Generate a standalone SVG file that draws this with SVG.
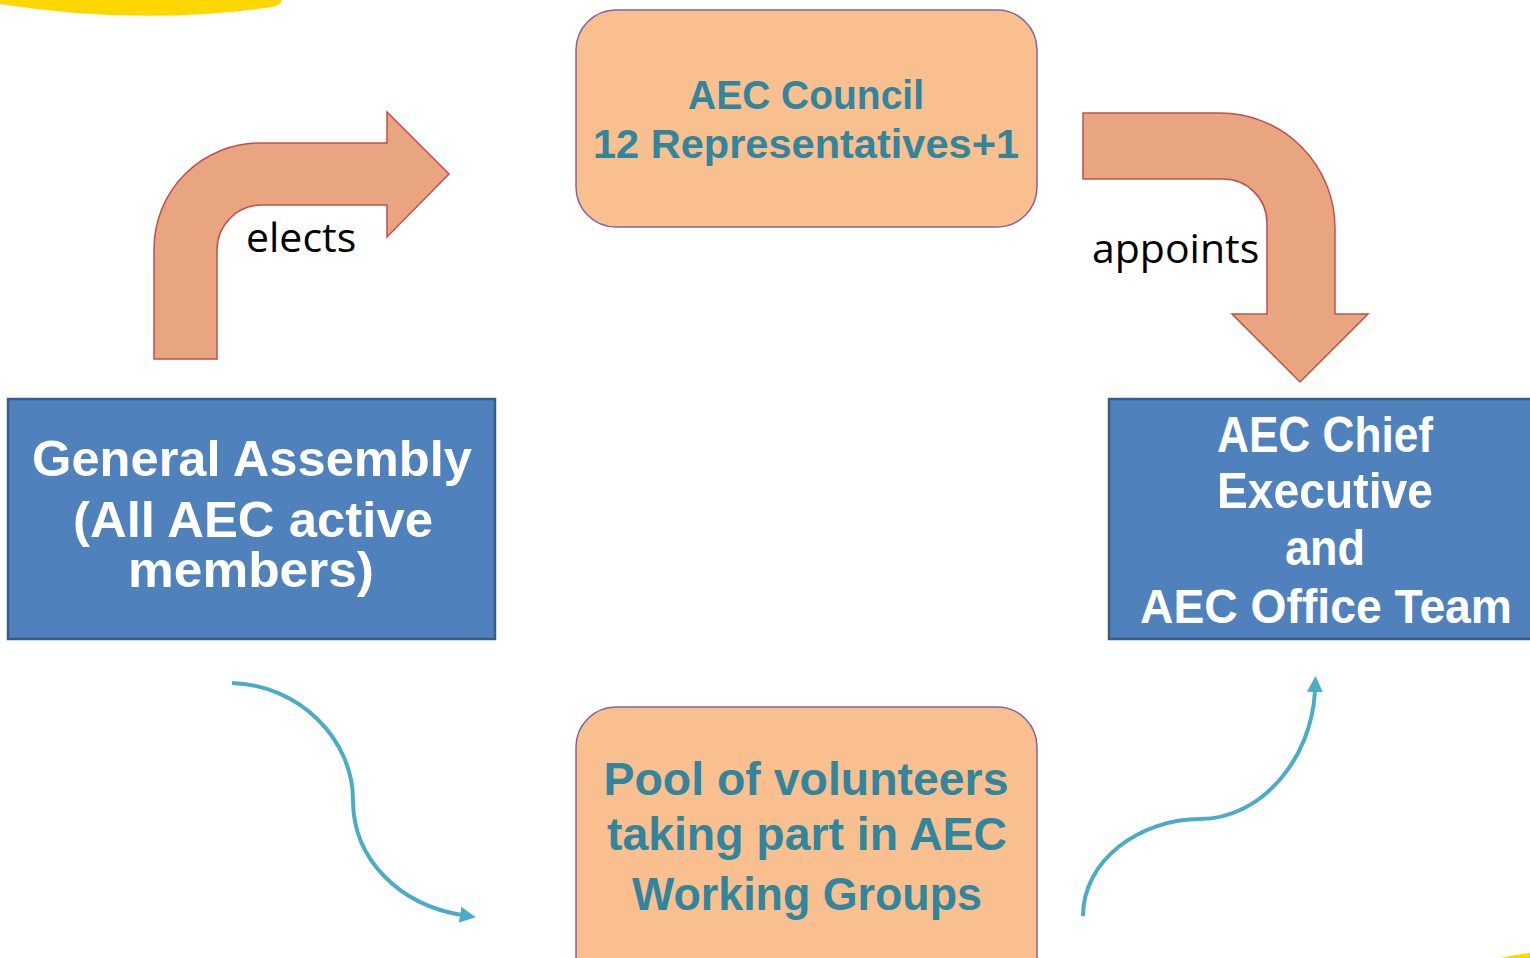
<svg xmlns="http://www.w3.org/2000/svg" width="1530" height="958" viewBox="0 0 1530 958">
<defs>
<style>
.bent{fill:#E9A57F;stroke:#C0504D;stroke-width:1.5}
.blue{fill:#4F81BD;stroke:#385D8A;stroke-width:2.5}
.peach{fill:#F9BF8F;stroke:#8064A2;stroke-width:1.5}
.wt{font-family:"Liberation Sans",Arial,sans-serif;font-weight:bold;fill:#FFFFFF;text-anchor:middle}
.tt{font-family:"Liberation Sans",Arial,sans-serif;font-weight:bold;fill:#31859C;text-anchor:middle}
.lbl{font-family:"Open Sans","Noto Sans",sans-serif;font-size:41px;fill:#000000}
.curve{fill:none;stroke:#4BACC6;stroke-width:4}
.yel{fill:#FFD700}
</style>
<marker id="ah" viewBox="0 0 16 16" refX="2" refY="8" markerWidth="16" markerHeight="16" markerUnits="userSpaceOnUse" orient="auto">
<path d="M0,0 L16,8 L0,16 Z" fill="#4BACC6"/>
</marker>
</defs>
<rect x="0" y="0" width="1530" height="958" fill="#FFFFFF"/>
<path class="yel" d="M0,0 L0,4 Q140,26 272,7 Q283,4 281,0 Z"/>
<path class="yel" d="M1500,958 Q1518,954 1530,953 L1530,958 Z"/>

<g id="connectors">
<g id="elects-arrow">
<path class="bent" d="M154,359 L154,249 A106,106 0 0 1 260,143 L387,143 L387,112 L449,174 L387,237 L387,205 L262,205 A45,45 0 0 0 217,250 L217,359 Z"/>
<text class="lbl" x="246" y="252">elects</text>
</g>
<g id="appoints-arrow">
<path class="bent" d="M1083,113 L1220,113 A115,115 0 0 1 1335,228 L1335,314 L1368,314 L1300,382 L1232,314 L1267,314 L1267,223 A44,44 0 0 0 1223,179 L1083,179 Z"/>
<text class="lbl" x="1092" y="263">appoints</text>
</g>
<path class="curve" marker-end="url(#ah)" d="M232,683 C300,685 353,740 353,800 C353,860 400,905 462,915"/>
<path class="curve" marker-end="url(#ah)" d="M1083,916 C1083,860 1140,819 1200,819 C1260,819 1312,760 1315,690"/>
</g>

<g id="council">
<rect class="peach" x="576" y="10" width="461" height="217" rx="40" ry="40"/>
<text class="tt" font-size="41" x="806" y="109" textLength="236" lengthAdjust="spacingAndGlyphs">AEC Council</text>
<text class="tt" font-size="41" x="806" y="158" textLength="426" lengthAdjust="spacingAndGlyphs">12 Representatives+1</text>
</g>

<g id="general-assembly">
<rect class="blue" x="8" y="399" width="487" height="240"/>
<text class="wt" font-size="50" x="252" y="476" textLength="440" lengthAdjust="spacingAndGlyphs">General Assembly</text>
<text class="wt" font-size="50" x="253" y="537" textLength="360" lengthAdjust="spacingAndGlyphs">(All AEC active</text>
<text class="wt" font-size="50" x="251" y="587" textLength="246" lengthAdjust="spacingAndGlyphs">members)</text>
</g>

<g id="chief-executive">
<rect class="blue" x="1109" y="399" width="440" height="240"/>
<text class="wt" font-size="50" x="1325" y="452" textLength="216" lengthAdjust="spacingAndGlyphs">AEC Chief</text>
<text class="wt" font-size="50" x="1325" y="508" textLength="216" lengthAdjust="spacingAndGlyphs">Executive</text>
<text class="wt" font-size="50" x="1325" y="565" textLength="80" lengthAdjust="spacingAndGlyphs">and</text>
<text class="wt" font-size="48" x="1326" y="623" textLength="372" lengthAdjust="spacingAndGlyphs">AEC Office Team</text>
</g>

<g id="volunteers">
<rect class="peach" x="576" y="707" width="461" height="300" rx="40" ry="40"/>
<text class="tt" font-size="46" x="806" y="795" textLength="405" lengthAdjust="spacingAndGlyphs">Pool of volunteers</text>
<text class="tt" font-size="46" x="807" y="850" textLength="400" lengthAdjust="spacingAndGlyphs">taking part in AEC</text>
<text class="tt" font-size="46" x="807" y="910" textLength="350" lengthAdjust="spacingAndGlyphs">Working Groups</text>
</g>
</svg>
